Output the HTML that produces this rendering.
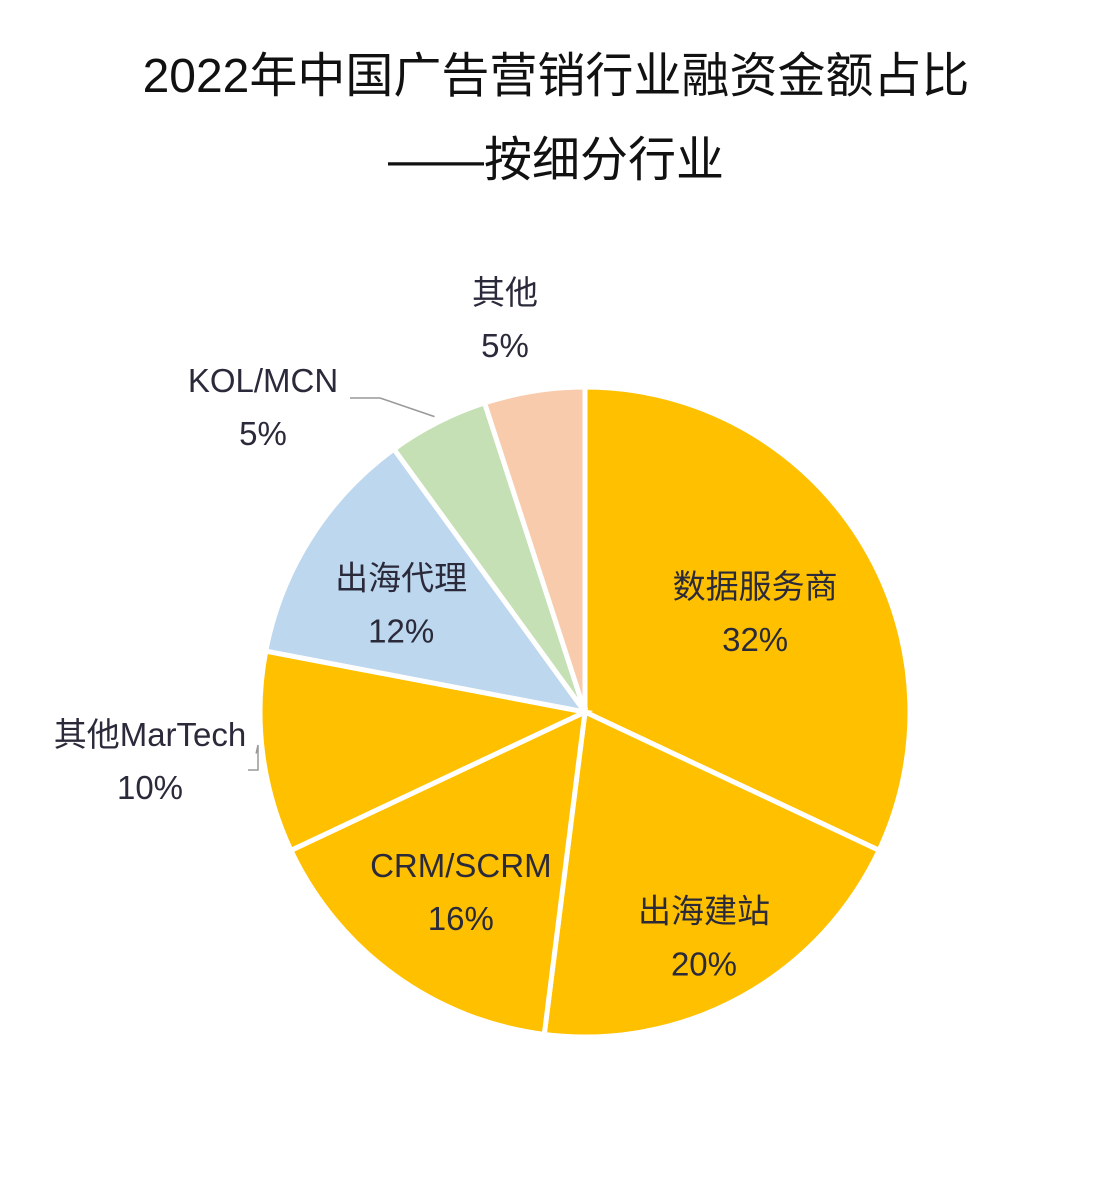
<!DOCTYPE html>
<html><head><meta charset="utf-8">
<style>
body{margin:0;background:#fff;}
svg{display:block;font-family:"Liberation Sans","Noto Sans CJK SC",sans-serif;}
</style></head>
<body>
<svg id="chart" width="1112" height="1204" viewBox="0 0 1112 1204" xmlns="http://www.w3.org/2000/svg">
<rect width="1112" height="1204" fill="#fff"/>
<text x="556" y="92" text-anchor="middle" font-size="48" fill="#111">2022年中国广告营销行业融资金额占比</text>
<text x="556" y="176" text-anchor="middle" font-size="48" fill="#111">——按细分行业</text>
<g id="slices"></g>
<g id="labels"></g>
</svg>
<script>
const categories = ["数据服务商","出海建站","CRM/SCRM","其他MarTech","出海代理","KOL/MCN","其他"];
const values = [32,20,16,10,12,5,5];
const valueLabels = ["32%","20%","16%","10%","12%","5%","5%"];
const colors = ["#FFC000","#FFC000","#FFC000","#FFC000","#BDD7EE","#C5E0B4","#F8CBAD"];
const labelR = [0.62,0.76,0.65,1.35,0.67,1.25,1.15];
const cx=585, cy=712, R=325;
const ns="http://www.w3.org/2000/svg";
const gS=document.getElementById('slices'), gL=document.getElementById('labels');
const total=values.reduce((a,b)=>a+b,0);
let acc=0;
function pt(a,r){return [cx+r*Math.sin(a), cy-r*Math.cos(a)];}
values.forEach((v,i)=>{
  const a0=acc/total*2*Math.PI; acc+=v; const a1=acc/total*2*Math.PI;
  const p0=pt(a0,R), p1=pt(a1,R);
  const large=(a1-a0)>Math.PI?1:0;
  const p=document.createElementNS(ns,'path');
  p.setAttribute('d',`M${cx},${cy} L${p0[0]},${p0[1]} A${R},${R} 0 ${large} 1 ${p1[0]},${p1[1]} Z`);
  p.setAttribute('fill',colors[i]); p.setAttribute('stroke','#fff'); p.setAttribute('stroke-width','5');
  
  
  gS.appendChild(p);
  const am=(a0+a1)/2;
  let lp=pt(am,R*labelR[i]);
  if(i===3){lp=[150,752];}
  if(i===5){lp=[263,398];}
  if(i===6){lp=[505,310];}
  if(i===3||i===5){
    const l=document.createElementNS(ns,'polyline');
    const e=pt(am,R*1.02);
    const s= i===5 ? [350,398] : [258,745];
    const m= i===5 ? [380,398] : [258,770];
    const pts = i===5 ? `${s[0]},${s[1]} ${m[0]},${m[1]} ${e[0]},${e[1]}` : `${e[0]},${e[1]} ${s[0]},${s[1]} ${s[0]},${m[1]} 248,${m[1]}`;
    l.setAttribute('points',pts); l.setAttribute('fill','none'); l.setAttribute('stroke','#999'); l.setAttribute('stroke-width','1.5');
    
    
    gL.appendChild(l);
  }
  const t=document.createElementNS(ns,'text');
  t.setAttribute('x',lp[0]); t.setAttribute('text-anchor','middle'); t.setAttribute('font-size','33'); t.setAttribute('fill','#2a2a3a');
  
  
  const s1=document.createElementNS(ns,'tspan'); s1.setAttribute('x',lp[0]); s1.setAttribute('y',lp[1]-6); s1.textContent=categories[i];
  const s2=document.createElementNS(ns,'tspan'); s2.setAttribute('x',lp[0]); s2.setAttribute('y',lp[1]+47); s2.textContent=valueLabels[i];
  t.appendChild(s1); t.appendChild(s2); gL.appendChild(t);
});
</script>
</body></html>
